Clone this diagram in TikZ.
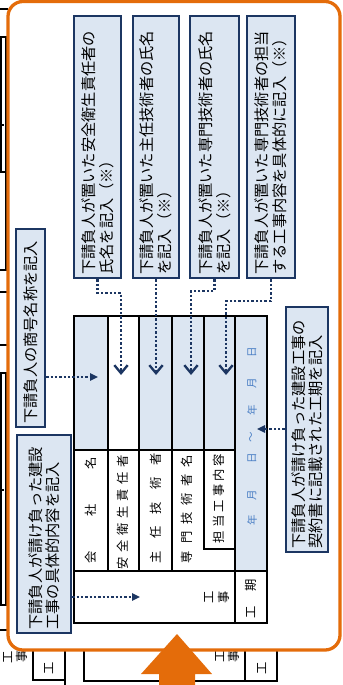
\documentclass[tikz,border=0pt]{standalone}
\usepackage{fontspec}
\setmainfont{Noto Sans CJK JP}
\usepackage{tikz}
\usetikzlibrary{arrows.meta}
\usepackage{xcolor}
\definecolor{navy}{RGB}{28,54,98}
\definecolor{paleblue}{RGB}{220,230,242}
\definecolor{boxorange}{RGB}{228,108,10}
\definecolor{datetext}{RGB}{72,125,196}

\begin{document}
\begin{tikzpicture}[x=0.03cm,y=-0.03cm,
  formline/.style={line width=1.8pt},
  bgline/.style={line width=1.6pt},
  notebox/.style={draw=navy, fill=paleblue, line width=2pt, rotate=90, align=left, inner xsep=0.1cm, inner ysep=0pt, font=\fontsize{13pt}{15pt}\selectfont},
  cellchar/.style={rotate=90, inner sep=0pt, font=\fontsize{10.5pt}{12pt}\selectfont},
  datechar/.style={cellchar, text=datetext, font=\fontsize{9pt}{10pt}\selectfont},
  pointer/.style={navy, line width=2pt, dash pattern=on 2pt off 1.7pt},
  openhead/.style={-{Straight Barb[length=2.4mm,width=4mm]}},
  solidhead/.style={-{Triangle[length=2.4mm,width=2.2mm]}}]
\useasboundingbox (0,0) rectangle (342,685);

\draw [bgline] (0,9) -- (8,9);
\draw [bgline] (1,37) rectangle (6,172);
\draw [bgline] (6,172) -- (6,270) -- (0,270);
\draw [bgline] (1,125) -- (4,125);
\draw [bgline] (0,292) -- (8,292);
\draw [bgline] (0,345) -- (8,345);
\draw [bgline] (1,373) rectangle (6,605);
\draw [bgline] (1,490) -- (4,490);
\draw [bgline] (0,630) -- (8,630);
\draw [bgline] (33,645) -- (33,680) -- (65,680);
\draw [bgline] (65,645) -- (65,685);
\draw [bgline] (84,645) -- (84,681) -- (277,681) -- (277,645);
\draw [bgline] (245,645) -- (245,681);
\node[cellchar] (bgkoL) at (8,657) {工};
\node[cellchar] (bgjiL) at (22,656) {事};
\node[cellchar] (bgkiL) at (49,668) {工};
\node[cellchar] (bgkoR) at (220,656) {工};
\node[cellchar] (bgjiR) at (234,656) {事};
\node[cellchar] (bgkiR) at (262,668) {工};

\draw [boxorange, line width=2.8pt, fill=white, rounded corners=0.45cm] (8,1.5) rectangle (340,650);

\fill[paleblue] (74,316) rectangle (108,450);
\fill[paleblue] (139,316) rectangle (235,450);
\fill[paleblue] (235,316) rectangle (267,571);
\draw [formline] (74,316) rectangle (267,623);
\foreach \x in {108,139,172} \draw [formline] (\x,316) -- (\x,571);
\draw [formline] (204,316) -- (204,549) -- (235,549);
\draw [formline] (235,316) -- (235,623);
\draw [formline] (74,450) -- (235,450);
\draw [formline] (74,571) -- (267,571);

\foreach \c [count=\i from 0] in {会,社,名} \node[cellchar] (company\i) at (91,557-47*\i) {\c};
\foreach \c [count=\i from 0] in {安,全,衛,生,責,任,者} \node[cellchar] (safety\i) at (123,563-17*\i) {\c};
\foreach \c [count=\i from 0] in {主,任,技,術,者} \node[cellchar] (chief\i) at (156,557-24.5*\i) {\c};
\foreach \c [count=\i from 0] in {専,門,技,術,者,名} \node[cellchar] (expert\i) at (187,557-19.2*\i) {\c};
\foreach \c [count=\i from 0] in {担,当,工,事,内,容} \node[cellchar] (scope\i) at (219,537-15.4*\i) {\c};
\node[cellchar] (work0) at (209,597) {工};
\node[cellchar] (work1) at (224,597) {事};
\node[cellchar] (period0) at (251,612) {工};
\node[cellchar] (period1) at (251,585) {期};
\foreach \c/\y in {年/520,月/495,日/458,〜/437,年/410,月/383,日/352} \node[datechar] (date\y) at (252,\y) {\c};

\node[notebox, minimum width=7.86cm, minimum height=1.41cm, text width=7.66cm] (noteSafety) at (97.5,147) {下請負人が置いた安全衛生責任者の\\氏名を記入（※）};
\node[notebox, minimum width=7.86cm, minimum height=1.38cm, text width=7.66cm] (noteChief) at (156,147) {下請負人が置いた主任技術者の氏名\\を記入（※）};
\node[notebox, minimum width=7.86cm, minimum height=1.47cm, text width=7.66cm] (noteExpert) at (214.5,147) {下請負人が置いた専門技術者の氏名\\を記入（※）};
\node[notebox, minimum width=7.86cm, minimum height=1.44cm, text width=7.66cm] (noteScope) at (271,147) {下請負人が置いた専門技術者の担当\\する工事内容を具体的に記入（※）};
\node[notebox, minimum width=5.94cm, minimum height=0.87cm, text width=5.74cm] (noteName) at (30.5,328) {下請負人の商号名称を記入};
\node[notebox, minimum width=5.94cm, minimum height=1.62cm, text width=5.74cm] (noteWork) at (44,534) {下請負人が請け負った建設\\工事の具体的内容を記入};
\node[notebox, minimum width=7.35cm, minimum height=1.26cm, text width=7.15cm] (notePeriod) at (307,429.5) {下請負人が請け負った建設工事の\\契約書に記載された工期を記入};

\coordinate (toName) at (98,377);
\coordinate (toSafety) at (121,375);
\coordinate (bendSafety) at (121,293);
\coordinate (toChief) at (156,375);
\coordinate (toExpert) at (191,375);
\coordinate (bendExpert) at (191,291);
\coordinate (toScope) at (226,375);
\coordinate (bendScope) at (226,301);
\coordinate (toPeriod) at (257,429);
\coordinate (toWork) at (140,597);

\draw [pointer, openhead] (noteSafety.west) |- (bendSafety) -- (toSafety);
\draw [pointer, openhead] (noteChief.west) -- (toChief);
\draw [pointer, openhead] (noteExpert.west) |- (bendExpert) -- (toExpert);
\draw [pointer, openhead] (noteScope.west) |- (bendScope) -- (toScope);
\draw [pointer, solidhead] (toName -| noteName.south) -- (toName);
\draw [pointer, solidhead] (toWork -| noteWork.south) -- (toWork);
\draw [pointer, solidhead] (toPeriod -| notePeriod.north) -- (toPeriod);

\fill[boxorange] (177,634) -- (212,674) -- (195,674) -- (195,685) -- (159,685) -- (159,674) -- (141,674) -- cycle;
\end{tikzpicture}
\end{document}
